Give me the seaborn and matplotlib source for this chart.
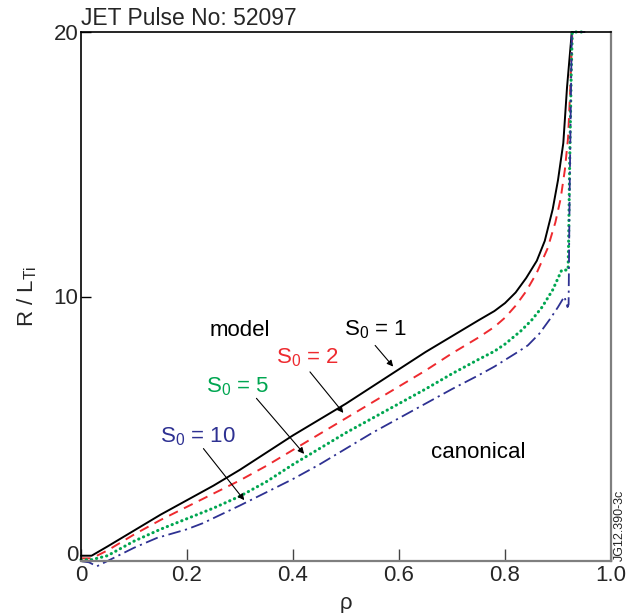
import numpy as np
import pandas as pd
import matplotlib
matplotlib.use("Agg")
import matplotlib.pyplot as plt
import seaborn as sns

# ---- data ----
rho_s1 = [0.0, 0.02, 0.05, 0.1, 0.15, 0.2, 0.25, 0.3, 0.35, 0.4, 0.45, 0.5, 0.55, 0.6, 0.65,
          0.7, 0.75, 0.78, 0.8, 0.82, 0.84, 0.86, 0.875, 0.89, 0.9, 0.91, 0.917, 0.926, 0.95]
val_s1 = [0.2, 0.2, 0.55, 1.15, 1.75, 2.3, 2.85, 3.45, 4.1, 4.75, 5.35, 5.95, 6.6, 7.25, 7.9,
          8.5, 9.1, 9.45, 9.75, 10.15, 10.7, 11.35, 12.1, 13.3, 14.4, 15.8, 17.9, 20.0, 20.0]

rho_s2 = [0.0, 0.02, 0.05, 0.1, 0.15, 0.2, 0.25, 0.3, 0.35, 0.4, 0.45, 0.5, 0.55, 0.6, 0.65,
          0.7, 0.75, 0.78, 0.8, 0.82, 0.84, 0.86, 0.88, 0.895, 0.905, 0.913, 0.919, 0.923,
          0.927, 0.95]
val_s2 = [0.1, 0.1, 0.4, 1.0, 1.55, 2.05, 2.55, 3.05, 3.6, 4.2, 4.8, 5.4, 6.0, 6.6, 7.2,
          7.85, 8.45, 8.85, 9.2, 9.65, 10.2, 10.9, 11.8, 12.8, 13.7, 14.8, 16.0, 17.8,
          20.0, 20.0]

rho_s5 = [0.0, 0.02, 0.05, 0.1, 0.15, 0.2, 0.25, 0.3, 0.35, 0.4, 0.45, 0.5, 0.55, 0.6, 0.65,
          0.7, 0.75, 0.78, 0.8, 0.83, 0.85, 0.87, 0.89, 0.907, 0.919, 0.92, 0.922, 0.925,
          0.927, 0.95]
val_s5 = [0.05, 0.05, 0.2, 0.75, 1.2, 1.6, 2.0, 2.45, 3.0, 3.65, 4.25, 4.85, 5.4, 5.95, 6.5,
          7.08, 7.62, 7.93, 8.2, 8.7, 9.1, 9.6, 10.25, 11.0, 11.0, 12.0, 15.0, 18.5,
          20.0, 20.0]

rho_s10 = [0.0, 0.015, 0.03, 0.05, 0.1, 0.143, 0.2, 0.23, 0.3, 0.35, 0.4, 0.45, 0.5, 0.55, 0.6,
           0.65, 0.7, 0.75, 0.78, 0.8, 0.82, 0.843, 0.865, 0.885, 0.9, 0.912, 0.918, 0.92,
           0.922, 0.926, 0.95]
val_s10 = [0.0, -0.05, -0.2, 0.0, 0.5, 0.87, 1.2, 1.43, 2.1, 2.6, 3.1, 3.65, 4.25, 4.85, 5.4,
           5.95, 6.5, 7.02, 7.35, 7.6, 7.85, 8.15, 8.6, 9.15, 9.6, 10.0, 9.6, 9.7,
           14.0, 20.0, 20.0]

x_ticks = [0, 0.2, 0.4, 0.6, 0.8, 1.0]
x_ticklabels = ["0", "0.2", "0.4", "0.6", "0.8", "1.0"]
y_ticks = [0, 10, 20]
y_ticklabels = ["0", "10", "20"]

# ---- style ----
sns.set_theme(style="white")
plt.rcParams["font.family"] = ["Liberation Sans", "DejaVu Sans"]
plt.rcParams["mathtext.fontset"] = "custom"
plt.rcParams["mathtext.rm"] = "Liberation Sans"
plt.rcParams["mathtext.it"] = "Liberation Sans"
plt.rcParams["mathtext.bf"] = "Liberation Sans:bold"

FS = 16
fig = plt.figure(figsize=(6.26, 6.13), dpi=100)
ax = fig.add_axes([81 / 626, 52 / 613, 530 / 626, 529 / 613])

black = "#000000"
red = "#ee2a2f"
green = "#00a651"
blue = "#2e3192"

sns.lineplot(x=rho_s1, y=val_s1, ax=ax, color=black, lw=1.4, sort=False,
             estimator=None, clip_on=False)
sns.lineplot(x=rho_s2, y=val_s2, ax=ax, color=red, lw=1.4, sort=False,
             estimator=None, clip_on=False)
sns.lineplot(x=rho_s5, y=val_s5, ax=ax, color=green, lw=2.2, sort=False,
             estimator=None, clip_on=False)
sns.lineplot(x=rho_s10, y=val_s10, ax=ax, color=blue, lw=1.3, sort=False,
             estimator=None, clip_on=False)
lines = ax.get_lines()
lines[1].set_dashes([5, 3.5])
lines[2].set_dashes([0.1, 1.6])
lines[2].set_dash_capstyle("round")
lines[3].set_dashes([7, 2.5, 1.2, 2.5])

ax.set_xlim(0, 1.0)
ax.set_ylim(0, 20)
ax.set_xticks(x_ticks)
ax.set_xticklabels(x_ticklabels)
ax.set_yticks(y_ticks)
ax.set_yticklabels(y_ticklabels)
ax.tick_params(axis="x", direction="in", length=9, width=1, color="#444444",
               labelsize=FS, pad=3, top=False, bottom=True)
ax.tick_params(axis="y", direction="in", length=7, width=1, color="black",
               labelsize=FS, pad=2, left=True, right=False)
# lift the y "0" label slightly so it sits on the baseline, as in the reference
ax.get_yticklabels()[0].set_va("baseline")

for side in ["left", "top"]:
    ax.spines[side].set_color("black")
    ax.spines[side].set_linewidth(1.2)
for side in ["right", "bottom"]:
    ax.spines[side].set_color("#7f7f7f")
    ax.spines[side].set_linewidth(1.6)

ax.set_xlabel("ρ", fontsize=FS, labelpad=5)
ax.set_ylabel(r"R / L$_{\mathrm{Ti}}$", fontsize=FS, labelpad=10)

ax.text(0.0, 1.003, "JET Pulse No: 52097", transform=ax.transAxes, fontsize=16.5,
        ha="left", va="bottom")

# annotations
ax.text(0.30, 8.7, "model", fontsize=FS, color=black, ha="center", va="center")
ax.text(0.75, 4.1, "canonical", fontsize=FS, color=black, ha="center", va="center")
ax.text(0.555, 8.75, r"S$_0$ = 1", fontsize=FS, color=black, ha="center", va="center")
ax.text(0.427, 7.7, r"S$_0$ = 2", fontsize=FS, color=red, ha="center", va="center")
ax.text(0.295, 6.6, r"S$_0$ = 5", fontsize=FS, color=green, ha="center", va="center")
ax.text(0.22, 4.7, r"S$_0$ = 10", fontsize=FS, color=blue, ha="center", va="center")

arrow_kw = dict(arrowstyle="-|>", color="black", lw=0.8, mutation_scale=9,
                shrinkA=0, shrinkB=0)
ax.annotate("", xy=(0.589, 7.35), xytext=(0.555, 8.15), arrowprops=arrow_kw)
ax.annotate("", xy=(0.495, 5.6), xytext=(0.432, 7.15), arrowprops=arrow_kw)
ax.annotate("", xy=(0.421, 4.05), xytext=(0.331, 6.15), arrowprops=arrow_kw)
ax.annotate("", xy=(0.308, 2.3), xytext=(0.231, 4.25), arrowprops=arrow_kw)

fig.text(620 / 626, 1 - 525 / 613, "JG12.390-3c", rotation=90, fontsize=9,
         ha="center", va="center")

fig.savefig("out.png", dpi=100)
